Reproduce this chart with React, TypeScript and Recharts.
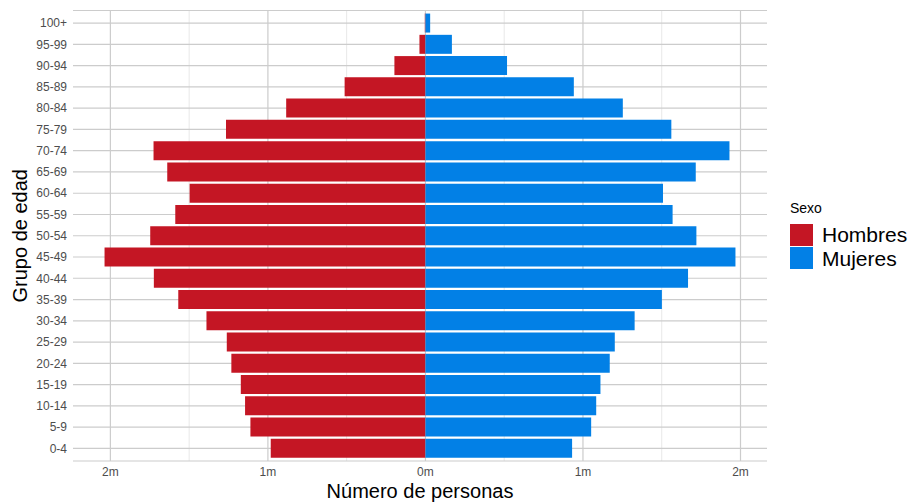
import React from 'react';
import { BarChart, Bar, XAxis, YAxis, CartesianGrid, Legend } from 'recharts';

const ageGroups = ['0-4', '5-9', '10-14', '15-19', '20-24', '25-29', '30-34', '35-39', '40-44', '45-49', '50-54', '55-59', '60-64', '65-69', '70-74', '75-79', '80-84', '85-89', '90-94', '95-99', '100+'];
const hombres = [982000, 1111000, 1145000, 1172000, 1232000, 1261000, 1390000, 1569000, 1724000, 2037000, 1747000, 1588000, 1497000, 1639000, 1726000, 1266000, 884000, 513000, 197000, 38000, 4000];
const mujeres = [931000, 1052000, 1084000, 1111000, 1170000, 1202000, 1328000, 1501000, 1667000, 1968000, 1720000, 1569000, 1508000, 1716000, 1930000, 1561000, 1253000, 942000, 518000, 168000, 30000];
const majorTicks = [-2000000, -1000000, 0, 1000000, 2000000];
const minorTicks = [-1500000, -500000, 500000, 1500000];
const seriesLabels = ['Hombres', 'Mujeres'];
const legendTitle = 'Sexo';
const xTitle = 'Número de personas';
const yTitle = 'Grupo de edad';

const RED = '#C41624';
const BLUE = '#0280E6';

const data = ageGroups.map((g, i) => ({ grupo: g, hombres: -hombres[i], mujeres: mujeres[i] }));
const lo = -Math.max(...hombres);
const hi = Math.max(...mujeres);
const pad = (hi - lo) * 0.05;
const domain: [number, number] = [lo - pad, hi + pad];

const fmt = (v: number) => `${Math.round(Math.abs(v) / 1e6)}m`;

const XTitle = (props: any) => {
  const vb = props.viewBox || {};
  return (
    <text x={vb.x + vb.width / 2} y={vb.y + 37} textAnchor="middle" fontSize={20} fill="#000">
      {xTitle}
    </text>
  );
};

const YTitle = (props: any) => {
  const vb = props.viewBox || {};
  const x = vb.x + 27;
  const y = vb.y + vb.height / 2;
  return (
    <text x={x} y={y} textAnchor="middle" fontSize={20} fill="#000" transform={`rotate(-90, ${x}, ${y})`}>
      {yTitle}
    </text>
  );
};

const renderLegend = (props: any) => {
  const payload = props.payload || [];
  return (
    <div style={{ fontFamily: '"Liberation Sans", Arial, sans-serif', color: '#000' }}>
      <div style={{ fontSize: 14, lineHeight: '16px', marginBottom: 7.2 }}>{legendTitle}</div>
      {payload.map((e: any) => (
        <div key={e.value} style={{ display: 'flex', alignItems: 'center', height: 23.4 }}>
          <span style={{ display: 'inline-block', width: 23, height: 22.4, background: e.color }} />
          <span style={{ marginLeft: 9, fontSize: 21, lineHeight: '23px' }}>{e.value}</span>
        </div>
      ))}
    </div>
  );
};

export default function App() {
  return (
    <div
      style={{
        position: 'absolute',
        left: 0,
        top: 0,
        width: 909,
        height: 502,
        background: '#fff',
        fontFamily: '"Liberation Sans", Arial, sans-serif',
      }}
    >
      <BarChart
        width={909}
        height={502}
        data={data}
        layout="vertical"
        stackOffset="sign"
        barCategoryGap="5%"
        margin={{ top: 10.5, right: 142, bottom: 0, left: 0 }}
      >
        <CartesianGrid horizontal={false} verticalValues={minorTicks} stroke="#e8e8e8" strokeWidth={1} />
        <CartesianGrid vertical={true} verticalValues={majorTicks} stroke="#cccccc" strokeWidth={1.2} />
        <XAxis
          type="number"
          domain={domain}
          ticks={majorTicks}
          tickFormatter={fmt}
          allowDataOverflow
          height={41}
          tickSize={0}
          tickMargin={6}
          axisLine={false}
          tickLine={false}
          tick={{ fontSize: 12, fill: '#4d4d4d' }}
          label={{ content: XTitle }}
        />
        <YAxis
          type="category"
          dataKey="grupo"
          reversed
          width={73}
          interval={0}
          tickSize={0}
          tickMargin={6}
          axisLine={false}
          tickLine={false}
          padding={{ top: 2, bottom: 2 }}
          tick={{ fontSize: 12, fill: '#4d4d4d' }}
          label={{ content: YTitle }}
        />
        <Legend
          layout="vertical"
          align="center"
          verticalAlign="middle"
          content={renderLegend}
          wrapperStyle={{ position: 'absolute', left: 790, top: 200, width: 119 }}
        />
        <Bar dataKey="hombres" name={seriesLabels[0]} stackId="a" fill={RED} isAnimationActive={false} />
        <Bar dataKey="mujeres" name={seriesLabels[1]} stackId="a" fill={BLUE} isAnimationActive={false} />
      </BarChart>
    </div>
  );
}
